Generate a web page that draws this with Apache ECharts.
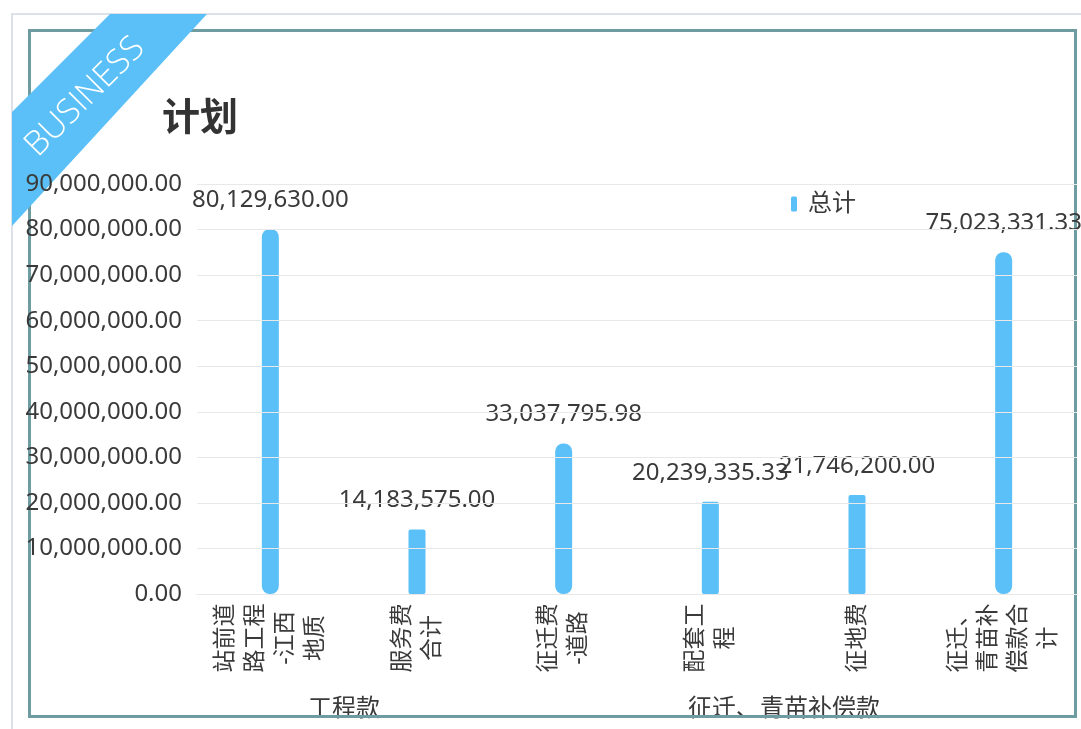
<!DOCTYPE html>
<html>
<head>
<meta charset="utf-8">
<script src="https://cdn.jsdelivr.net/npm/echarts@6/dist/echarts.min.js"></script>
<style>
html, body { margin: 0; padding: 0; background: #fff; }
#chart { width: 1081px; height: 729px; }
</style>
</head>
<body>
<div id="chart"></div>
<script>
// 分项名称（换行照原图）
const categories = ['站前道\n路工程\n-江西\n地质', '服务费\n合计', '征迁费\n-道路', '配套工\n程', '征地费', '征迁、\n青苗补\n偿款合\n计'];
const totals = [80129630.00, 14183575.00, 33037795.98, 20239335.33, 21746200.00, 75023331.33];
const groups = ['工程款', '征迁、青苗补偿款'];
const yMin = 0;
const yMax = 90000000;
const yStep = 10000000;

const FONT = "'Noto Sans', 'Noto Sans CJK SC', sans-serif";
const TXT = '#3a3a3a';
const BLUE = '#5bc0f7';

function money(v) {
	let s = Number(v).toFixed(2).split('.');
	return s[0].replace(/\B(?=(\d{3})+(?!\d))/g, ',') + '.' + s[1];
}

const myChart = echarts.init(document.getElementById('chart'));

const option = {
	animation: false,
	textStyle: { fontFamily: FONT },
	title: {
		text: '计划',
		left: 157,
		top: 95,
		textStyle: { fontSize: 38, fontWeight: 'bold', color: '#333', fontFamily: FONT }
	},
	legend: {
		left: 786,
		top: 187,
		icon: 'roundRect',
		itemWidth: 6,
		itemHeight: 15,
		textStyle: { fontSize: 24, color: TXT, padding: [0, 0, 0, 6] },
		data: ['总计']
	},
	grid: { left: 197, right: 4, top: 184, bottom: 135, containLabel: false },
	xAxis: [
		{
			type: 'category',
			data: categories,
			axisLine: { lineStyle: { color: '#dcdcdc' } },
			axisTick: { show: false },
			axisLabel: {
				interval: 0,
				rotate: 90,
				align: 'center',
				verticalAlign: 'middle',
				margin: 44,
				fontSize: 23,
				lineHeight: 30,
				color: TXT
			}
		},
		{
			type: 'category',
			position: 'bottom',
			data: groups,
			axisLine: { show: false },
			axisTick: { show: false },
			splitLine: { show: false },
			axisLabel: {
				interval: 0,
				margin: 103,
				fontSize: 24,
				color: TXT,
				padding: [0, 146, 0, 0]
			}
		}
	],
	yAxis: {
		type: 'value',
		min: yMin,
		max: yMax,
		interval: yStep,
		z: 5,
		axisLine: { show: false },
		axisTick: { show: false },
		splitLine: { lineStyle: { color: '#e8e8e8' } },
		axisLabel: {
			margin: 15,
			fontSize: 24,
			color: TXT,
			formatter: money
		}
	},
	series: [
		{
			name: '总计',
			type: 'bar',
			xAxisIndex: 0,
			barWidth: 17,
			itemStyle: { color: BLUE },
			label: {
				show: true,
				position: 'top',
				distance: 17,
				fontSize: 24,
				color: TXT,
				formatter: p => money(p.value)
			},
			data: totals.map(v => ({
				value: v,
				itemStyle: { borderRadius: v > 30000000 ? 8 : 2 }
			}))
		}
	],
	graphic: [
		{
			type: 'polyline',
			z: 1,
			shape: { points: [[12, 729], [12, 14], [1081, 14]] },
			style: { stroke: '#dde1ea', lineWidth: 2, fill: null }
		},
		{
			type: 'rect',
			z: 1,
			shape: { x: 29.5, y: 30.5, width: 1046, height: 686 },
			style: { stroke: '#6f9ca1', lineWidth: 3, fill: null }
		},
		{
			type: 'polygon',
			z: 2,
			shape: { points: [[110, 14], [207, 14], [12, 226], [12, 112]] },
			style: { fill: BLUE }
		},
		{
			type: 'text',
			z: 3,
			x: 85,
			y: 97,
			rotation: Math.PI / 4,
			style: {
				text: 'BUSINESS',
				fill: '#fff',
				fontSize: 34,
				fontWeight: 300,
				fontFamily: "'Open Sans', 'Noto Sans', sans-serif",
				align: 'center',
				verticalAlign: 'middle'
			}
		}
	]
};

myChart.setOption(option);
</script>
</body>
</html>
